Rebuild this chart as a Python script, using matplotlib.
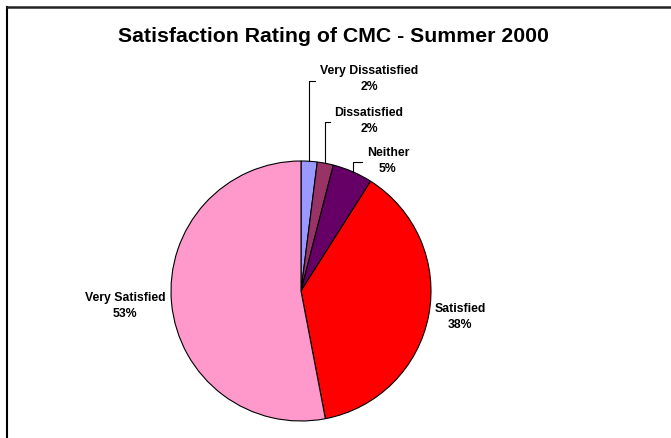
import numpy as np
import matplotlib.pyplot as plt
from matplotlib.lines import Line2D

# data
categories = ['Very Dissatisfied', 'Dissatisfied', 'Neither', 'Satisfied', 'Very Satisfied']
shares = [2, 2, 5, 38, 53]
colors = ['#9999FF', '#993366', '#660066', '#FF0000', '#FF99CC']

W, H = 671, 438
fig = plt.figure(figsize=(W / 100, H / 100), dpi=100)
ax = fig.add_axes([0, 0, 1, 1])

plt.rcParams['font.family'] = ['Liberation Sans', 'DejaVu Sans']

cx, cy, r = 301, H - 291, 130
wedges, _ = ax.pie(shares, colors=colors, startangle=90, counterclock=False,
                   center=(cx, cy), radius=r, frame=True,
                   wedgeprops=dict(edgecolor='black', linewidth=0.8))
ax.set_xlim(0, W)
ax.set_ylim(0, H)
ax.set_aspect('equal')
ax.axis('off')

# label layout (pixel positions from top-left), leader elbow y / end x
label_pos = [(369, 79), (369, 121), (388, 161), (460, 317), (125, 306)]
leaders = {0: (81, 315), 1: (122, 330), 2: (162, 362)}

for i, (name, val) in enumerate(zip(categories, shares)):
    lx, ly = label_pos[i]
    ax.text(lx, H - ly, f'{name}\n{val}%', ha='center', va='center',
            fontsize=8.8, fontweight='bold', linespacing=1.4)
    if i in leaders:
        w = wedges[i]
        mid = np.deg2rad((w.theta1 + w.theta2) / 2)
        ex, ey = cx + r * np.cos(mid), cy + r * np.sin(mid)
        ey_px, endx = leaders[i]
        ax.plot([ex, ex, endx], [ey, H - ey_px, H - ey_px], color='black', lw=0.8)

fig.text(333 / W, 1 - 36 / H, 'Satisfaction Rating of CMC - Summer 2000',
         ha='center', va='center', fontsize=15.3, fontweight='bold')

# outer border (left and top only visible)
fig.add_artist(Line2D([7 / W, 7 / W], [0, 1 - 7 / H], color='black', lw=1.5,
                      transform=fig.transFigure))
fig.add_artist(Line2D([7 / W, 1], [1 - 7 / H, 1 - 7 / H], color='#222222', lw=1.8,
                      transform=fig.transFigure))

fig.savefig('out.png', dpi=100)
